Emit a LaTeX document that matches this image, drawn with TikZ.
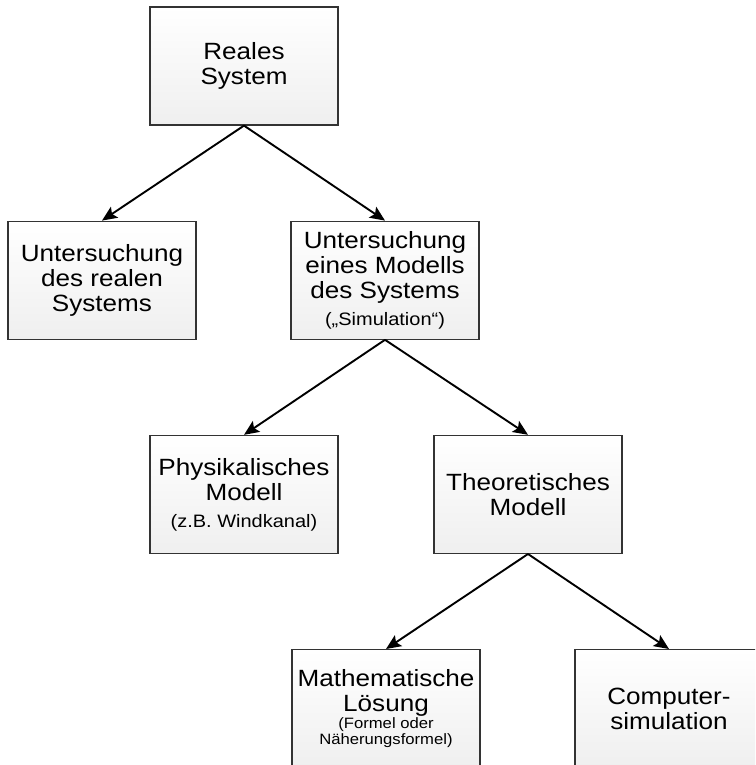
\documentclass[tikz,border=0pt]{standalone}
\usepackage{fontspec}
\setmainfont{Liberation Sans}[FakeStretch=1.11]
\usetikzlibrary{positioning,arrows.meta}
\definecolor{boxline}{HTML}{333333}
\definecolor{boxbot}{HTML}{EFEFEF}
\tikzset{
  sysbox/.style={rectangle,draw=boxline,line width=1.2pt,top color=white,bottom color=boxbot,
    minimum width=188pt,minimum height=118pt,inner sep=2pt,align=center,
    font=\fontsize{23.5}{25}\selectfont},
  flow/.style={-{Stealth[length=15pt,width=13pt,inset=3pt]},line width=1.9pt},
}
\newcommand{\klein}{\fontsize{18}{20}\selectfont}
\newcommand{\winzig}{\fontsize{15}{16}\selectfont}

\begin{document}
\begin{tikzpicture}[x=1pt,y=1pt,node distance=95pt]
  \path[use as bounding box,clip] (0,0) rectangle (755,-765);
  % oberste Ebene
  \node[sysbox] (real) at (244,-66) {Reales\\System};
  % zweite Ebene
  \node[sysbox,below=of real,xshift=-142pt] (realU) {Untersuchung\\des realen\\Systems};
  \node[sysbox,below=of real,xshift=141pt] (modU) {Untersuchung\\eines Modells\\des Systems\\[2pt]{\klein(„Simulation“)}};
  \draw[flow] (real.south)--(realU.north); \draw[flow] (real.south)--(modU.north);
  % dritte Ebene
  \node[sysbox,below=of modU,xshift=-141pt] (phys) {Physikalisches\\Modell\\[2pt]{\klein(z.B. Windkanal)}};
  \node[sysbox,below=of modU,xshift=143pt] (theo) {Theoretisches\\Modell};
  \draw[flow] (modU.south)--(phys.north); \draw[flow] (modU.south)--(theo.north);
  % unterste Ebene
  \node[sysbox,below=of theo,xshift=-142pt] (math) {Mathematische\\Lösung\\[-8pt]{\winzig(Formel oder}\\[-9pt]{\winzig Näherungsformel)}};
  \node[sysbox,below=of theo,xshift=141pt] (comp) {Computer-\\simulation};
  \draw[flow] (theo.south)--(math.north); \draw[flow] (theo.south)--(comp.north);
\end{tikzpicture}
\end{document}
